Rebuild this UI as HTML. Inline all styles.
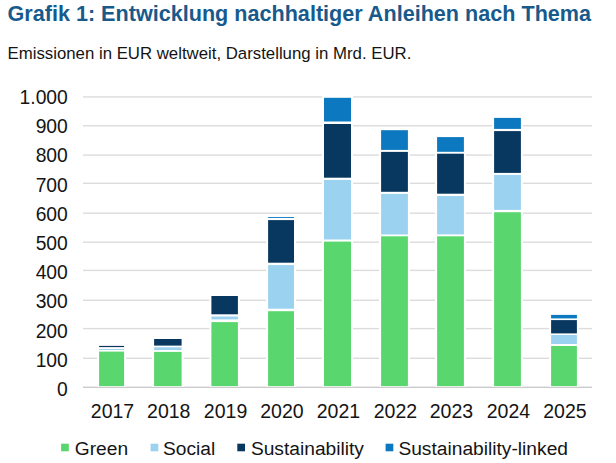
<!DOCTYPE html>
<html><head><meta charset="utf-8"><style>
html,body{margin:0;padding:0;background:#fff;}
body{width:616px;height:463px;position:relative;overflow:hidden;font-family:"Liberation Sans",sans-serif;color:#141414;}
div{position:absolute;line-height:1;white-space:nowrap;}
svg{position:absolute;left:0;top:0;}
</style></head><body>
<svg width="616" height="463" viewBox="0 0 616 463">
<rect x="83" y="96.20" width="509" height="1.4" fill="#DCDCDC"/>
<rect x="83" y="125.05" width="509" height="1.4" fill="#DCDCDC"/>
<rect x="83" y="154.40" width="509" height="1.4" fill="#DCDCDC"/>
<rect x="83" y="182.60" width="509" height="1.4" fill="#DCDCDC"/>
<rect x="83" y="212.50" width="509" height="1.4" fill="#DCDCDC"/>
<rect x="83" y="241.50" width="509" height="1.4" fill="#DCDCDC"/>
<rect x="83" y="269.70" width="509" height="1.4" fill="#DCDCDC"/>
<rect x="83" y="299.60" width="509" height="1.4" fill="#DCDCDC"/>
<rect x="83" y="327.90" width="509" height="1.4" fill="#DCDCDC"/>
<rect x="83" y="357.60" width="509" height="1.4" fill="#DCDCDC"/>
<rect x="83" y="386.60" width="509" height="1.4" fill="#CBCBCB"/>
<rect x="97.10" y="343.90" width="29.00" height="42.70" fill="#fff"/>
<rect x="99.1" y="345.9" width="25.00" height="1.20" fill="#08385F"/>
<rect x="99.1" y="349.0" width="25.00" height="0.90" fill="#9BD2EF"/>
<rect x="99.1" y="351.6" width="25.00" height="34.50" fill="#5AD66E"/>
<rect x="152.10" y="337.00" width="31.50" height="49.60" fill="#fff"/>
<rect x="154.1" y="339" width="27.50" height="6.60" fill="#08385F"/>
<rect x="154.1" y="347.3" width="27.50" height="2.70" fill="#9BD2EF"/>
<rect x="154.1" y="351.9" width="27.50" height="34.20" fill="#5AD66E"/>
<rect x="209.40" y="294.00" width="30.50" height="92.60" fill="#fff"/>
<rect x="211.4" y="296" width="26.50" height="18.30" fill="#08385F"/>
<rect x="211.4" y="316.5" width="26.50" height="2.90" fill="#9BD2EF"/>
<rect x="211.4" y="322.1" width="26.50" height="64.00" fill="#5AD66E"/>
<rect x="266.10" y="215.10" width="29.90" height="171.50" fill="#fff"/>
<rect x="268.1" y="217.1" width="25.90" height="0.90" fill="#0B78BF"/>
<rect x="268.1" y="220.1" width="25.90" height="42.60" fill="#08385F"/>
<rect x="268.1" y="265.1" width="25.90" height="43.60" fill="#9BD2EF"/>
<rect x="268.1" y="311.2" width="25.90" height="74.90" fill="#5AD66E"/>
<rect x="322.00" y="95.80" width="31.00" height="290.80" fill="#fff"/>
<rect x="324" y="97.8" width="27.00" height="23.70" fill="#0B78BF"/>
<rect x="324" y="124" width="27.00" height="53.70" fill="#08385F"/>
<rect x="324" y="179.9" width="27.00" height="59.60" fill="#9BD2EF"/>
<rect x="324" y="241.6" width="27.00" height="144.50" fill="#5AD66E"/>
<rect x="379.10" y="128.20" width="30.80" height="258.40" fill="#fff"/>
<rect x="381.1" y="130.2" width="26.80" height="19.70" fill="#0B78BF"/>
<rect x="381.1" y="151.9" width="26.80" height="39.90" fill="#08385F"/>
<rect x="381.1" y="193.9" width="26.80" height="40.60" fill="#9BD2EF"/>
<rect x="381.1" y="236.3" width="26.80" height="149.80" fill="#5AD66E"/>
<rect x="435.10" y="135.10" width="30.80" height="251.50" fill="#fff"/>
<rect x="437.1" y="137.1" width="26.80" height="14.70" fill="#0B78BF"/>
<rect x="437.1" y="153.7" width="26.80" height="40.00" fill="#08385F"/>
<rect x="437.1" y="196" width="26.80" height="38.40" fill="#9BD2EF"/>
<rect x="437.1" y="236.3" width="26.80" height="149.80" fill="#5AD66E"/>
<rect x="492.10" y="115.90" width="30.80" height="270.70" fill="#fff"/>
<rect x="494.1" y="117.9" width="26.80" height="11.00" fill="#0B78BF"/>
<rect x="494.1" y="131.1" width="26.80" height="41.80" fill="#08385F"/>
<rect x="494.1" y="174.9" width="26.80" height="35.00" fill="#9BD2EF"/>
<rect x="494.1" y="212.2" width="26.80" height="173.90" fill="#5AD66E"/>
<rect x="549.10" y="312.90" width="29.80" height="73.70" fill="#fff"/>
<rect x="551.1" y="314.9" width="25.80" height="3.50" fill="#0B78BF"/>
<rect x="551.1" y="320.1" width="25.80" height="13.30" fill="#08385F"/>
<rect x="551.1" y="335" width="25.80" height="9.00" fill="#9BD2EF"/>
<rect x="551.1" y="346" width="25.80" height="40.10" fill="#5AD66E"/>
<rect x="61.1" y="443.7" width="7.7" height="7.6" fill="#5AD66E"/>
<rect x="150.6" y="443.7" width="7.7" height="7.6" fill="#9BD2EF"/>
<rect x="237.3" y="443.7" width="7.7" height="7.6" fill="#08385F"/>
<rect x="385.6" y="443.7" width="7.7" height="7.6" fill="#0B78BF"/>
</svg>
<div style="top:3.12px;font-size:21.6px;font-weight:bold;color:#175A8B;left:7.50px;">Grafik 1: Entwicklung nachhaltiger Anleihen nach Thema</div>
<div style="top:45.95px;font-size:16.8px;left:7.50px;">Emissionen in EUR weltweit, Darstellung in Mrd. EUR.</div>
<div style="top:379.90px;font-size:19.3px;right:548.20px;text-align:right;">0</div>
<div style="top:350.70px;font-size:19.3px;right:548.20px;text-align:right;">100</div>
<div style="top:321.50px;font-size:19.3px;right:548.20px;text-align:right;">200</div>
<div style="top:292.30px;font-size:19.3px;right:548.20px;text-align:right;">300</div>
<div style="top:263.10px;font-size:19.3px;right:548.20px;text-align:right;">400</div>
<div style="top:233.90px;font-size:19.3px;right:548.20px;text-align:right;">500</div>
<div style="top:204.70px;font-size:19.3px;right:548.20px;text-align:right;">600</div>
<div style="top:175.50px;font-size:19.3px;right:548.20px;text-align:right;">700</div>
<div style="top:146.30px;font-size:19.3px;right:548.20px;text-align:right;">800</div>
<div style="top:117.10px;font-size:19.3px;right:548.20px;text-align:right;">900</div>
<div style="top:87.90px;font-size:19.3px;right:548.20px;text-align:right;">1.000</div>
<div style="top:401.53px;font-size:19.5px;left:12.50px;width:200px;text-align:center;">2017</div>
<div style="top:401.53px;font-size:19.5px;left:68.75px;width:200px;text-align:center;">2018</div>
<div style="top:401.53px;font-size:19.5px;left:125.55px;width:200px;text-align:center;">2019</div>
<div style="top:401.53px;font-size:19.5px;left:181.95px;width:200px;text-align:center;">2020</div>
<div style="top:401.53px;font-size:19.5px;left:238.40px;width:200px;text-align:center;">2021</div>
<div style="top:401.53px;font-size:19.5px;left:295.40px;width:200px;text-align:center;">2022</div>
<div style="top:401.53px;font-size:19.5px;left:351.40px;width:200px;text-align:center;">2023</div>
<div style="top:401.53px;font-size:19.5px;left:408.40px;width:200px;text-align:center;">2024</div>
<div style="top:401.53px;font-size:19.5px;left:464.90px;width:200px;text-align:center;">2025</div>
<div style="top:438.69px;font-size:19.2px;left:74.80px;">Green</div>
<div style="top:438.69px;font-size:19.2px;left:163.00px;">Social</div>
<div style="top:438.69px;font-size:19.2px;left:250.90px;">Sustainability</div>
<div style="top:438.69px;font-size:19.2px;left:398.40px;">Sustainability-linked</div>
</body></html>
